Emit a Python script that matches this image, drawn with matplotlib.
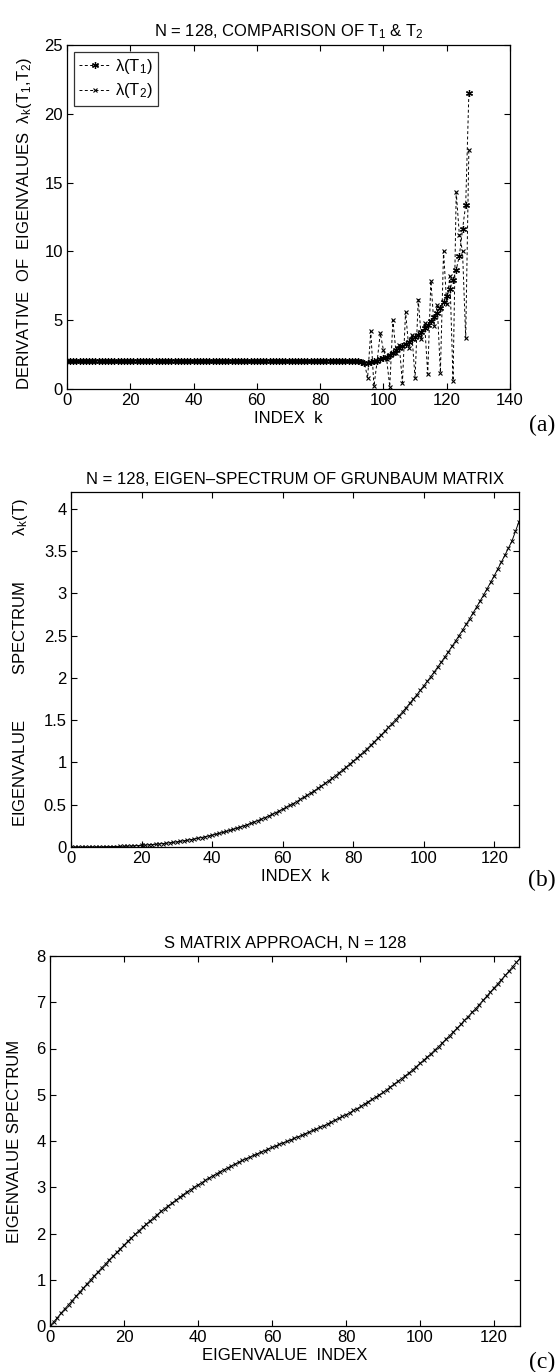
import matplotlib
matplotlib.use("Agg")
import matplotlib.pyplot as plt
from matplotlib.ticker import FuncFormatter

plt.rcParams["font.family"] = ["Liberation Sans", "DejaVu Sans"]
plt.rcParams["mathtext.fontset"] = "custom"
plt.rcParams["mathtext.rm"] = "Liberation Sans"
plt.rcParams["mathtext.it"] = "Liberation Sans:italic"
plt.rcParams["mathtext.default"] = "regular"

# ---- data ----
k_index = list(range(128))

# (a) derivative of eigenvalues, T1 (smooth) and T2 (oscillating tail)
lam_t1 = [
    2.0, 2.0, 2.0, 2.0, 2.0, 2.0, 2.0, 2.0, 2.0, 2.0, 2.0, 2.0, 2.0, 2.0, 2.0, 2.0,
    2.0, 2.0, 2.0, 2.0, 2.0, 2.0, 2.0, 2.0, 2.0, 2.0, 2.0, 2.0, 2.0, 2.0, 2.0, 2.0,
    2.0, 2.0, 2.0, 2.0, 2.0, 2.0, 2.0, 2.0, 2.0, 2.0, 2.0, 2.0, 2.0, 2.0, 2.0, 2.0,
    2.0, 2.0, 2.0, 2.0, 2.0, 2.0, 2.0, 2.0, 2.0, 2.0, 2.0, 2.0, 2.0, 2.0, 2.0, 2.0,
    2.0, 2.0, 2.0, 2.0, 2.0, 2.0, 2.0, 2.0, 2.0, 2.0, 2.0, 2.0, 2.0, 2.0, 2.0, 2.0,
    2.0, 2.0, 2.0, 2.0, 2.0, 2.0, 2.0, 2.0, 2.0, 2.0, 2.0, 2.0, 2.0,
    1.95, 1.9, 1.9, 1.95, 2.0, 2.05, 2.15, 2.25, 2.35, 2.5, 2.65, 2.8, 3.0, 3.15,
    3.3, 3.45, 3.6, 3.75, 3.95, 4.15, 4.4, 4.65, 4.95, 5.25, 5.55, 5.9, 6.3, 6.75,
    7.3, 7.9, 8.65, 9.7, 11.6, 13.4, 21.5,
]
lam_t2 = [
    2.0, 2.0, 2.0, 2.0, 2.0, 2.0, 2.0, 2.0, 2.0, 2.0, 2.0, 2.0, 2.0, 2.0, 2.0, 2.0,
    2.0, 2.0, 2.0, 2.0, 2.0, 2.0, 2.0, 2.0, 2.0, 2.0, 2.0, 2.0, 2.0, 2.0, 2.0, 2.0,
    2.0, 2.0, 2.0, 2.0, 2.0, 2.0, 2.0, 2.0, 2.0, 2.0, 2.0, 2.0, 2.0, 2.0, 2.0, 2.0,
    2.0, 2.0, 2.0, 2.0, 2.0, 2.0, 2.0, 2.0, 2.0, 2.0, 2.0, 2.0, 2.0, 2.0, 2.0, 2.0,
    2.0, 2.0, 2.0, 2.0, 2.0, 2.0, 2.0, 2.0, 2.0, 2.0, 2.0, 2.0, 2.0, 2.0, 2.0, 2.0,
    2.0, 2.0, 2.0, 2.0, 2.0, 2.0, 2.0, 2.0, 2.0, 2.0, 2.0, 2.0, 2.0,
    2.0, 1.9, 0.8, 4.2, 0.2, 2.0, 4.05, 2.83, 2.2, 0.17, 5.0, 2.6, 3.2, 0.46,
    5.6, 3.0, 3.9, 0.82, 6.5, 3.6, 4.8, 1.09, 7.85, 4.6, 6.1, 1.19, 10.0, 6.2,
    8.2, 0.6, 14.3, 11.2, 10.0, 3.7, 17.4,
]

# (b) eigen-spectrum of Grunbaum matrix
grunbaum = [
    0.0, 0.0, 0.0, 0.0, 0.0, 0.0, 0.001, 0.001, 0.001, 0.002, 0.003,
    0.003, 0.004, 0.005, 0.007, 0.008, 0.010, 0.012, 0.014, 0.016, 0.019,
    0.022, 0.025, 0.028, 0.032, 0.036, 0.040, 0.045, 0.050, 0.055, 0.061,
    0.067, 0.073, 0.080, 0.087, 0.095, 0.103, 0.112, 0.121, 0.130, 0.140,
    0.150, 0.161, 0.172, 0.184, 0.196, 0.209, 0.222, 0.236, 0.250, 0.265,
    0.281, 0.297, 0.313, 0.330, 0.348, 0.366, 0.385, 0.405, 0.426, 0.447,
    0.469, 0.491, 0.514, 0.538, 0.562, 0.587, 0.613, 0.639, 0.666, 0.694,
    0.723, 0.752, 0.782, 0.813, 0.845, 0.878, 0.911, 0.945, 0.980, 1.015,
    1.051, 1.088, 1.126, 1.165, 1.205, 1.246, 1.287, 1.329, 1.372, 1.415,
    1.460, 1.505, 1.551, 1.599, 1.648, 1.698, 1.748, 1.799, 1.852, 1.905,
    1.960, 2.016, 2.073, 2.131, 2.190, 2.250, 2.311, 2.373, 2.436, 2.500,
    2.566, 2.633, 2.700, 2.770, 2.840, 2.912, 2.984, 3.058, 3.133, 3.210,
    3.290, 3.370, 3.452, 3.535, 3.620, 3.735, 3.850,
]

# (c) S matrix approach
s_matrix = [
    0.00, 0.09, 0.18, 0.28, 0.37, 0.46, 0.55, 0.64, 0.73, 0.82, 0.91,
    1.00, 1.09, 1.17, 1.26, 1.34, 1.43, 1.51, 1.59, 1.67, 1.75,
    1.83, 1.91, 1.98, 2.06, 2.13, 2.20, 2.27, 2.34, 2.41, 2.48,
    2.54, 2.60, 2.66, 2.72, 2.78, 2.84, 2.90, 2.95, 3.00, 3.05,
    3.10, 3.15, 3.20, 3.25, 3.29, 3.34, 3.38, 3.42, 3.46, 3.50,
    3.54, 3.58, 3.62, 3.65, 3.69, 3.72, 3.76, 3.79, 3.83, 3.86,
    3.89, 3.93, 3.96, 3.99, 4.02, 4.06, 4.09, 4.12, 4.16, 4.19,
    4.23, 4.26, 4.30, 4.33, 4.37, 4.41, 4.45, 4.49, 4.53, 4.57,
    4.61, 4.66, 4.70, 4.75, 4.80, 4.85, 4.90, 4.95, 5.00, 5.05,
    5.11, 5.17, 5.23, 5.29, 5.35, 5.41, 5.47, 5.54, 5.61, 5.68,
    5.75, 5.82, 5.89, 5.97, 6.04, 6.12, 6.20, 6.28, 6.36, 6.44,
    6.52, 6.61, 6.69, 6.78, 6.86, 6.95, 7.04, 7.13, 7.22, 7.31,
    7.40, 7.49, 7.58, 7.67, 7.77, 7.86, 7.95,
]

W, H = 559, 1372
FS = 12
fig = plt.figure(figsize=(W / 100, H / 100), dpi=100)


def box(left, top, right, bottom):
    return [left / W, 1 - bottom / H, (right - left) / W, (bottom - top) / H]


def style(ax):
    ax.tick_params(direction="in", top=True, right=True, length=4, width=0.8,
                   labelsize=FS, pad=3)
    for sp in ax.spines.values():
        sp.set_linewidth(0.9)
    ax.yaxis.set_major_formatter(FuncFormatter(lambda v, p: "%g" % v))


ASTER = (6, 2, 0)

# ---- (a) ----
ax1 = fig.add_axes(box(67, 45, 510, 389))
ax1.plot(k_index, lam_t1, linestyle="--", marker=ASTER, color="black", lw=0.7,
         ms=5, mew=0.9, dashes=(3, 2.5), label=r"$\lambda$(T$_1$)")
ax1.plot(k_index, lam_t2, linestyle="--", marker="x", color="black", lw=0.7,
         ms=3.5, mew=0.8, dashes=(3, 2.5), label=r"$\lambda$(T$_2$)")
ax1.set_xlim(0, 140)
ax1.set_ylim(0, 25)
ax1.set_xticks(range(0, 141, 20))
ax1.set_yticks(range(0, 26, 5))
style(ax1)
ax1.set_title("N = 128, COMPARISON OF T$_1$ & T$_2$", fontsize=FS, pad=6)
ax1.set_xlabel("INDEX  k", fontsize=FS, labelpad=2)
ax1.set_ylabel(r"DERIVATIVE  OF  EIGENVALUES  $\lambda_k$(T$_1$,T$_2$)", fontsize=FS)
ax1.yaxis.set_label_coords(-0.075, 0.48)
leg = ax1.legend(loc="upper left", fontsize=FS, frameon=True, fancybox=False,
                 edgecolor="black", handlelength=1.9, borderpad=0.3,
                 labelspacing=0.35, handletextpad=0.3, borderaxespad=0.4)
leg.get_frame().set_linewidth(0.9)

# ---- (b) ----
ax2 = fig.add_axes(box(71, 492, 519, 847))
ax2.plot(k_index, grunbaum, "-x", color="black", lw=0.7, ms=3, mew=0.7)
ax2.set_xlim(0, 127)
ax2.set_ylim(0, 4.2)
ax2.set_xticks(range(0, 121, 20))
ax2.set_yticks([0, 0.5, 1, 1.5, 2, 2.5, 3, 3.5, 4])
style(ax2)
ax2.set_title("N = 128, EIGEN\u2013SPECTRUM OF GRUNBAUM MATRIX", fontsize=FS, pad=6)
ax2.set_xlabel("INDEX  k", fontsize=FS, labelpad=2)
ax2.set_ylabel(r"EIGENVALUE          SPECTRUM          $\lambda_k$(T)", fontsize=FS)
ax2.yaxis.set_label_coords(-0.092, 0.52)

# ---- (c) ----
ax3 = fig.add_axes(box(50, 956, 520, 1326))
ax3.plot(k_index, s_matrix, "-x", color="black", lw=0.7, ms=3.5, mew=0.7)
ax3.set_xlim(0, 127)
ax3.set_ylim(0, 8)
ax3.set_xticks(range(0, 121, 20))
ax3.set_yticks(range(0, 9))
style(ax3)
ax3.set_title("S MATRIX APPROACH, N = 128", fontsize=FS, pad=6)
ax3.set_xlabel("EIGENVALUE  INDEX", fontsize=FS, labelpad=2)
ax3.set_ylabel("EIGENVALUE SPECTRUM", fontsize=FS)
ax3.yaxis.set_label_coords(-0.06, 0.5)

# panel tags
for tag, y in (("(a)", 425), ("(b)", 880), ("(c)", 1362)):
    fig.text(542 / W, 1 - y / H, tag, family="Liberation Serif", fontsize=17,
             ha="center", va="center")

fig.savefig("out.png", dpi=100)
